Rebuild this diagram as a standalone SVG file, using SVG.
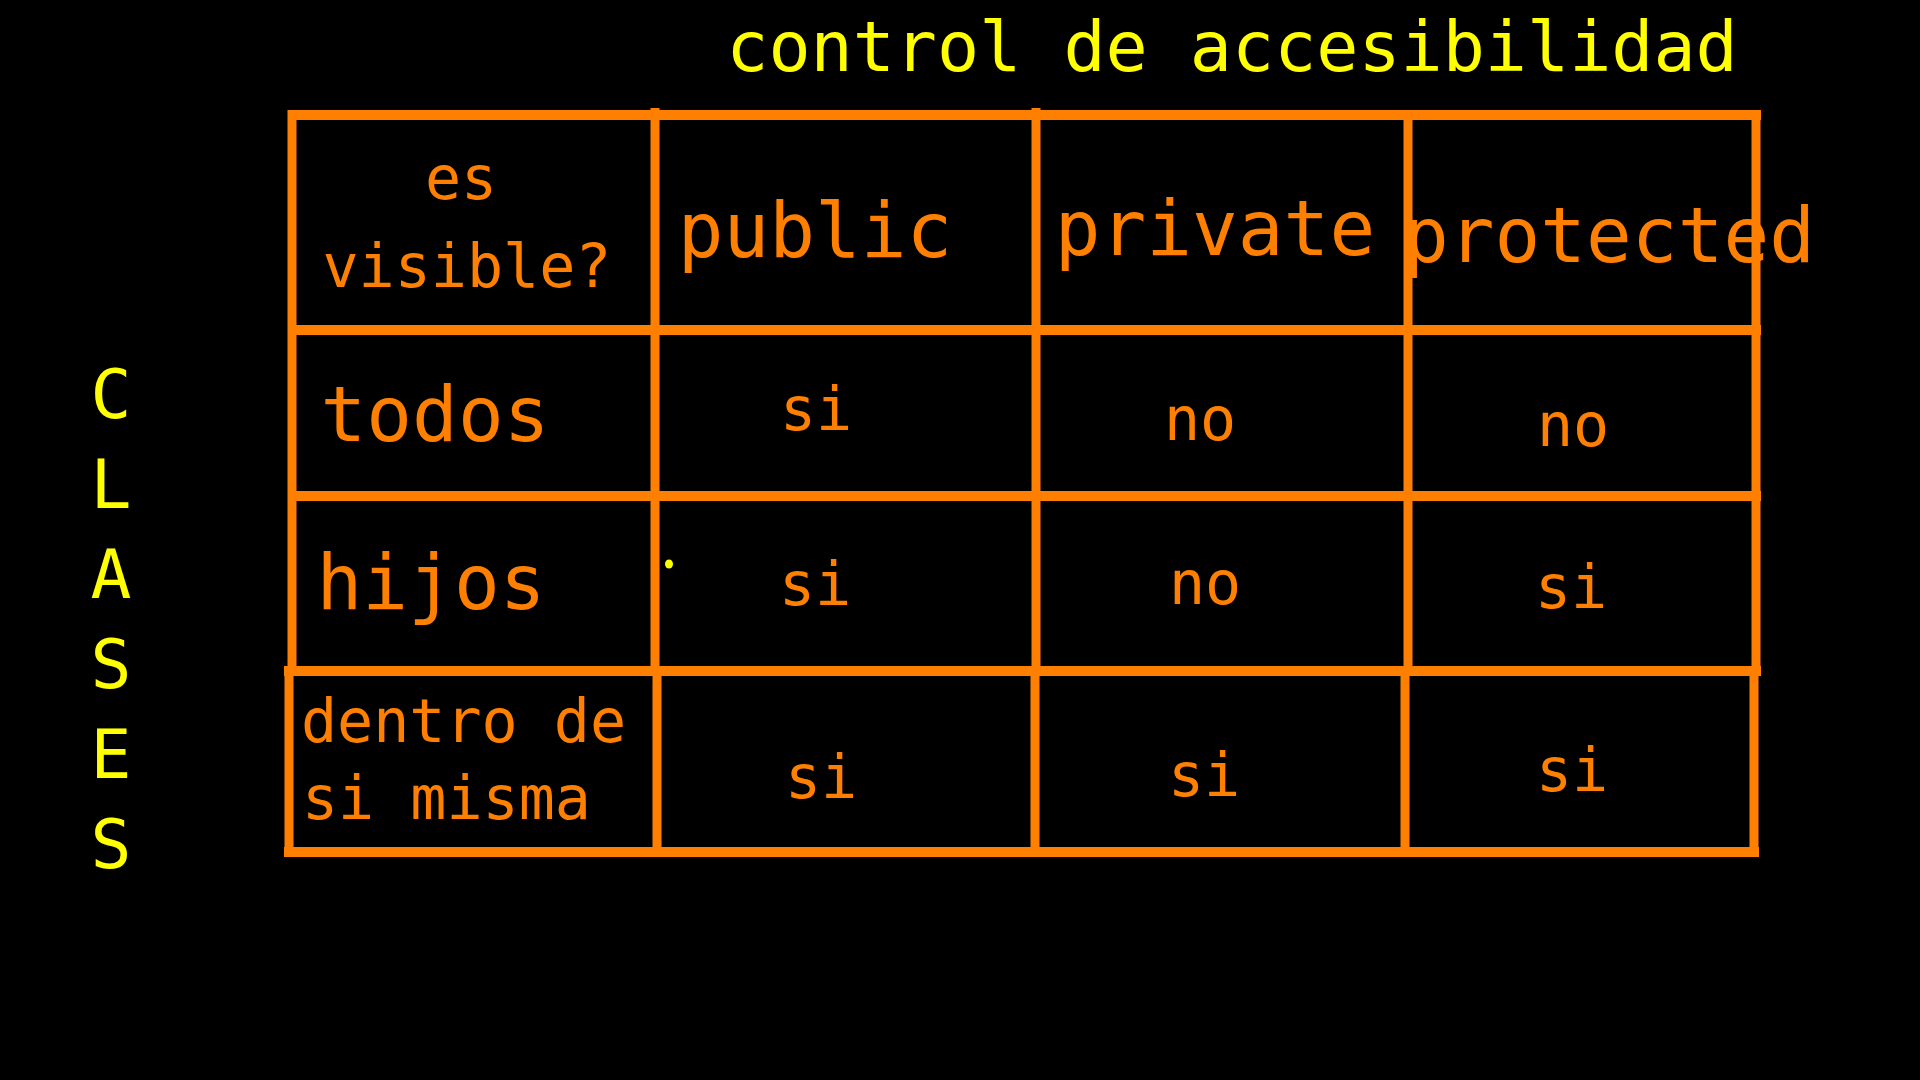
<svg xmlns="http://www.w3.org/2000/svg" width="1920" height="1080" viewBox="0 0 1920 1080">
<style>
.y{fill:#FFFF00;font-family:"DejaVu Sans Mono",monospace;}
.o{fill:#FF8000;font-family:"DejaVu Sans Mono",monospace;}
.big{font-size:76px;}
.sm{font-size:60px;}
.m{text-anchor:middle;}
.h{stroke:#FF8000;stroke-width:10;fill:none;}
.v{stroke:#FF8000;stroke-width:9;fill:none;}
</style>
<rect x="0" y="0" width="1920" height="1080" fill="#000000"/>
<g id="title">
<text class="y m" x="1232" y="71" font-size="70">control de accesibilidad</text>
</g>
<g id="clases" class="y m" font-size="68">
<text x="111" y="418">C</text>
<text x="111" y="508">L</text>
<text x="111" y="598">A</text>
<text x="111" y="688">S</text>
<text x="111" y="778">E</text>
<text x="111" y="868">S</text>
</g>
<g id="grid">
<line class="h" x1="288" y1="115" x2="1761" y2="115"/>
<line class="h" x1="288" y1="330" x2="1761" y2="330"/>
<line class="h" x1="288" y1="496" x2="1761" y2="496"/>
<line class="h" x1="284" y1="671" x2="1761" y2="671"/>
<line class="h" x1="284" y1="852" x2="1759" y2="852"/>
<line class="v" x1="292" y1="110" x2="292" y2="671"/>
<line class="v" x1="289" y1="666" x2="289" y2="857"/>
<line class="v" x1="655" y1="108" x2="655" y2="671"/>
<line class="v" x1="657" y1="666" x2="657" y2="852"/>
<line class="v" x1="1036" y1="108" x2="1036" y2="671"/>
<line class="v" x1="1035" y1="666" x2="1035" y2="852"/>
<line class="v" x1="1408" y1="115" x2="1408" y2="671"/>
<line class="v" x1="1405" y1="666" x2="1405" y2="852"/>
<line class="v" x1="1756" y1="110" x2="1756" y2="671"/>
<line class="v" x1="1754" y1="666" x2="1754" y2="857"/>
</g>
<g id="header">
<text class="o sm m" x="461" y="199">es</text>
<text class="o sm m" x="467" y="287">visible?</text>
<text class="o big m" x="815" y="257">public</text>
<text class="o big m" x="1215" y="255">private</text>
<text class="o big m" x="1609" y="262">protected</text>
</g>
<g id="row-todos">
<text class="o big m" x="435" y="441">todos</text>
<text class="o sm m" x="816" y="430">si</text>
<text class="o sm m" x="1200" y="440">no</text>
<text class="o sm m" x="1573" y="446">no</text>
</g>
<g id="row-hijos">
<text class="o big m" x="431" y="609">hijos</text>
<ellipse cx="669" cy="564" rx="4" ry="4.5" fill="#FFFF00"/>
<text class="o sm m" x="815" y="605">si</text>
<text class="o sm m" x="1205" y="604">no</text>
<text class="o sm m" x="1571" y="608">si</text>
</g>
<g id="row-misma">
<text class="o sm" x="301" y="742">dentro de</text>
<text class="o sm" x="302" y="819">si misma</text>
<text class="o sm m" x="821" y="798">si</text>
<text class="o sm m" x="1204" y="796">si</text>
<text class="o sm m" x="1572" y="791">si</text>
</g>
</svg>
